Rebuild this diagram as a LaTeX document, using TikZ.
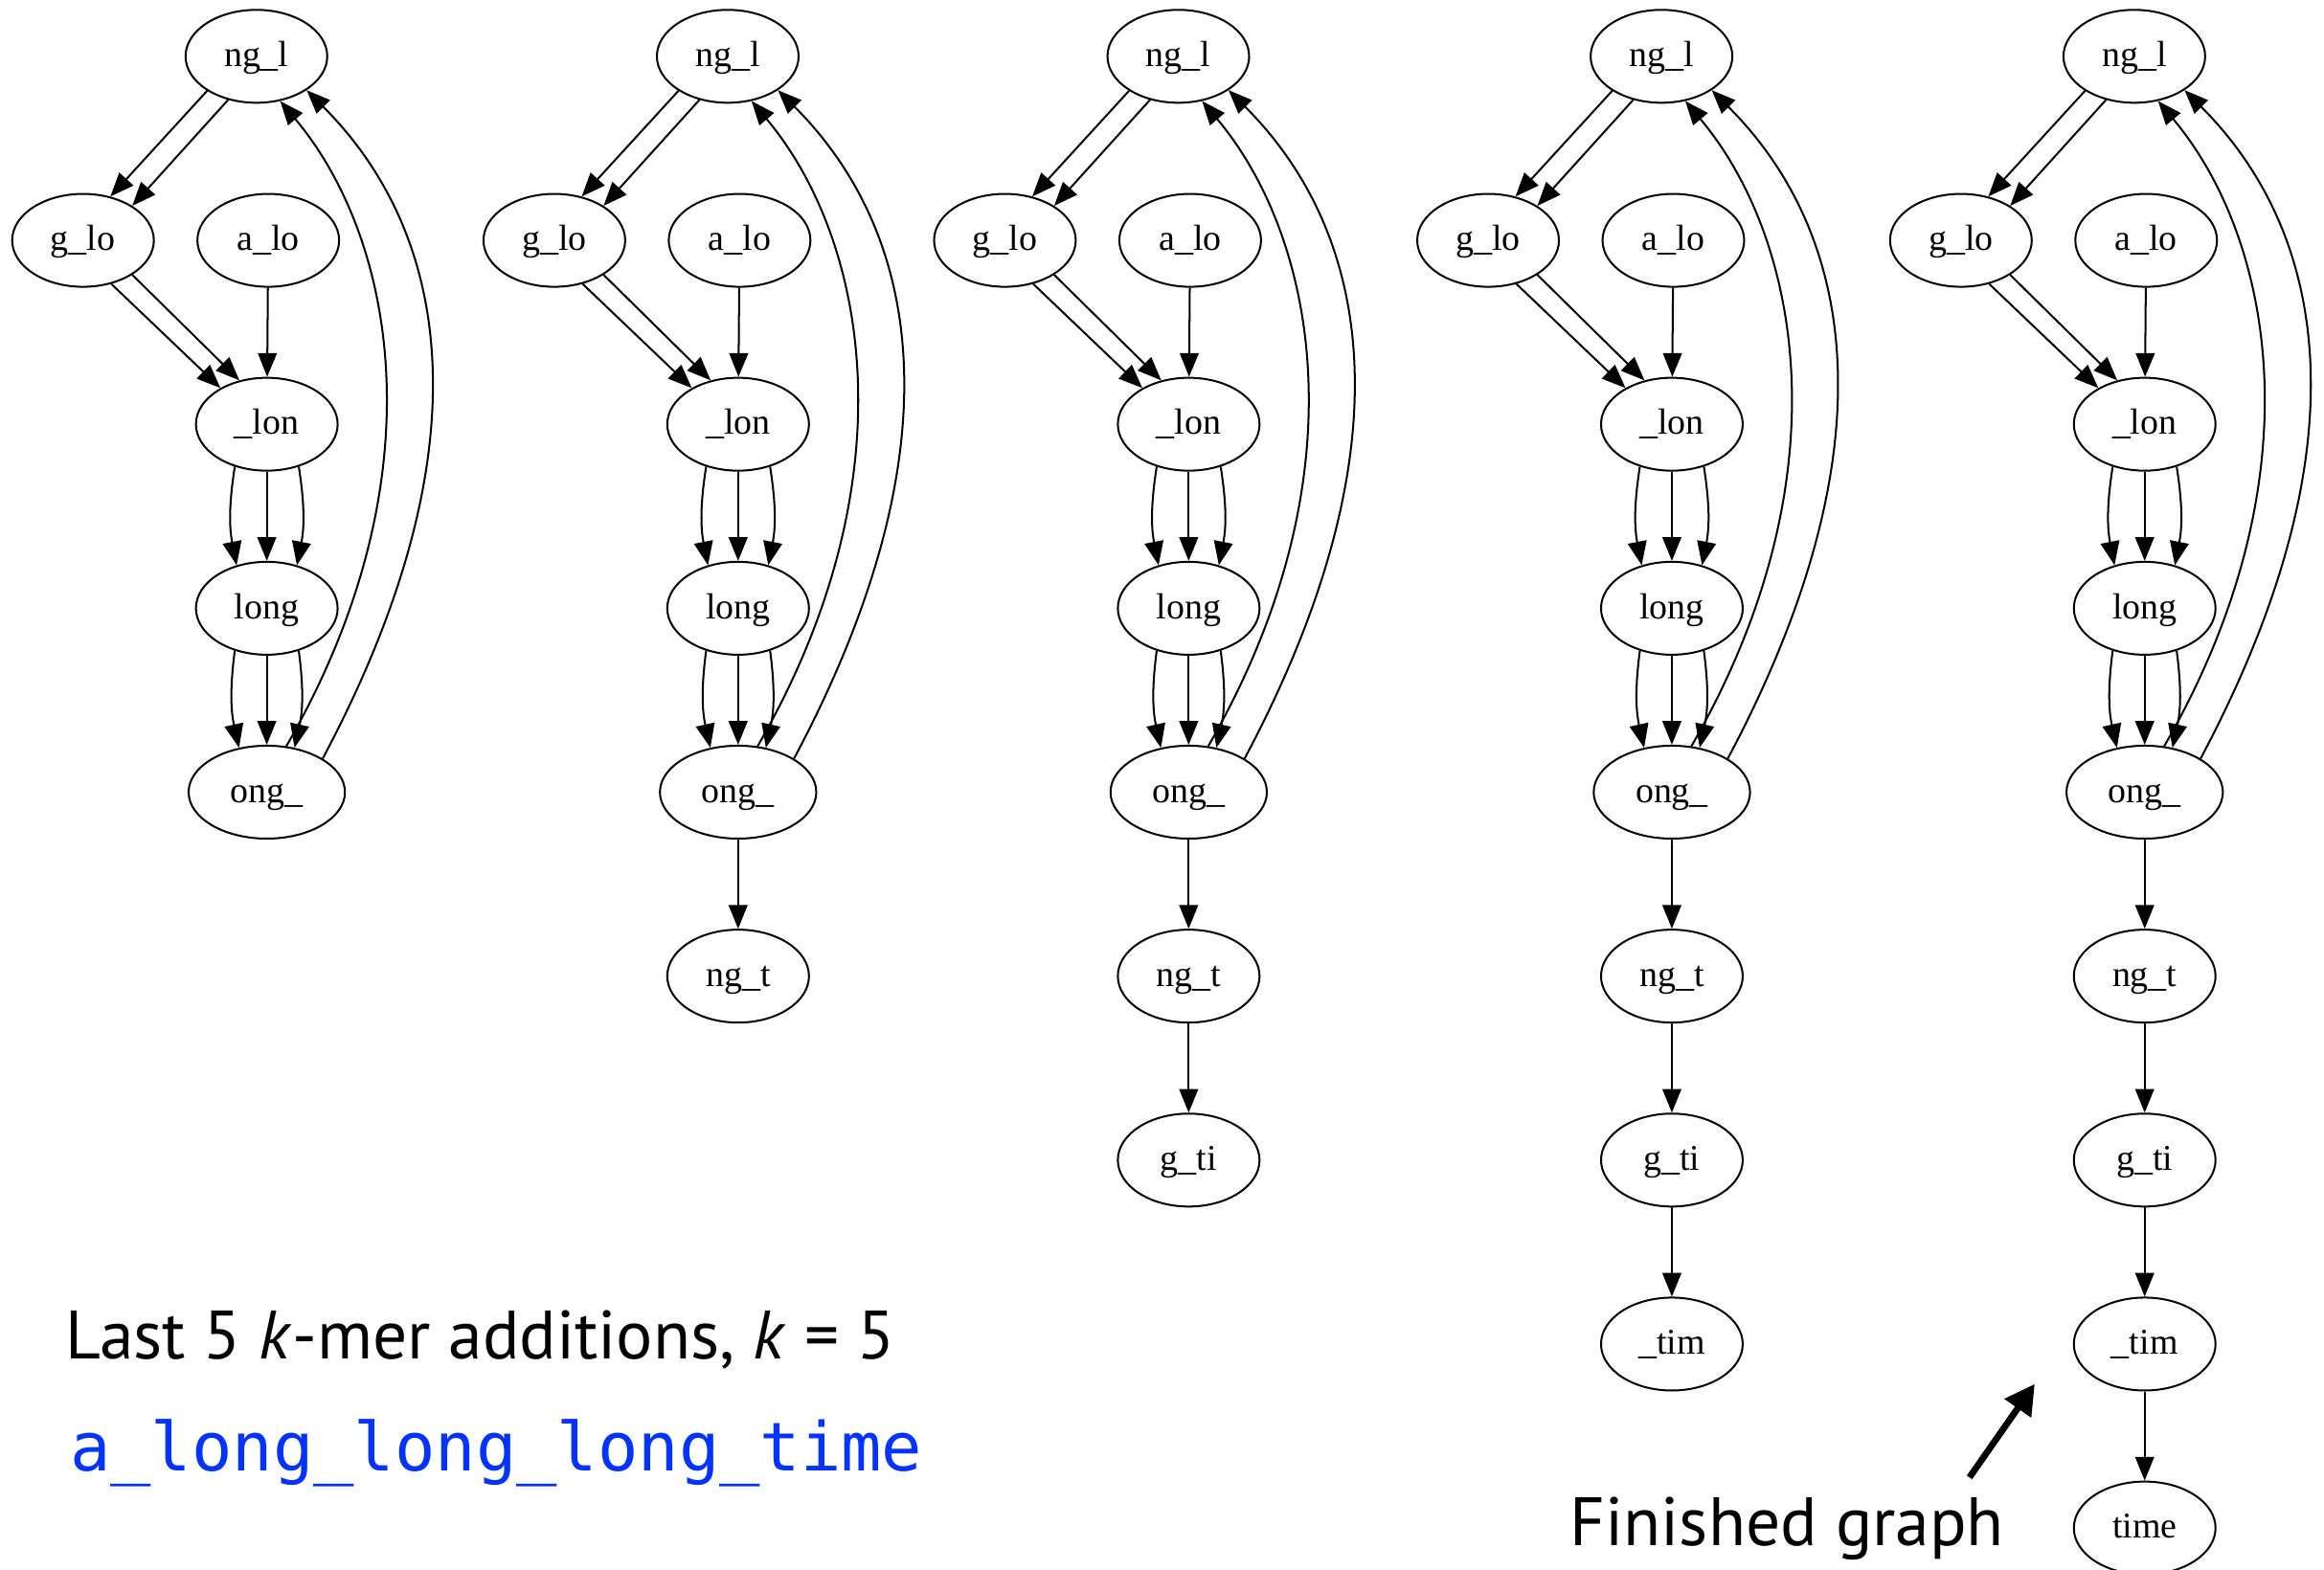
\documentclass[tikz,border=0pt]{standalone}
\usepackage{fontspec}
\setmainfont{Liberation Serif}
\setsansfont{PT Sans}
\setmonofont{DejaVu Sans Mono}
\usetikzlibrary{arrows.meta,shapes.geometric}
\definecolor{seqblue}{RGB}{4,51,255}

\begin{document}
\begin{tikzpicture}[x=1pt,y=-1pt]

	\tikzset{kmer/.style={draw,ellipse,line width=1.3pt,minimum width=95.6pt,minimum height=62.7pt,inner sep=0pt,
	    text height=17pt,text depth=3pt,font=\fontsize{24.5}{28}\selectfont}}
	\tikzset{link/.style={line width=1.3pt,-{Triangle[length=16pt,width=12.7pt]}}}
	\tikzset{label/.style={anchor=base west,inner sep=0pt}}
	\useasboundingbox (0,0) rectangle (1568,1059);

	\foreach \gx/\n [count=\g] in {180/0,498/1,802/2,1128/3,1447/4} {
	    \begin{scope}[xshift=\gx pt]
	        \node[kmer] (ngl\g) at (-7,38) {ng\_l};
	        \node[kmer] (glo\g) at (-124,162.2) {g\_lo};
	        \node[kmer] (alo\g) at (1,162.2) {a\_lo};
	        \node[kmer] (lon\g) at (0,286.3) {\_lon};
	        \node[kmer] (long\g) at (0,410.5) {long};
	        \node[kmer,minimum width=105.5pt] (c\g0) at (0,534.6) {ong\_};
	        \draw[link] (ngl\g.-145) -- (glo\g.58);
	        \draw[link] (ngl\g.-123) -- (glo\g.35);
	        \draw[link] (glo\g.-57) -- (lon\g.142);
	        \draw[link] (glo\g.-35) -- (lon\g.122);
	        \draw[link] (alo\g) -- (lon\g);
	        \draw[link] (lon\g.-127) to[bend right=10] (long\g.125);
	        \draw[link] (lon\g) -- (long\g);
	        \draw[link] (lon\g.-53) to[bend left=10] (long\g.55);
	        \draw[link] (long\g.-127) to[bend right=10] (c\g0.122);
	        \draw[link] (long\g) -- (c\g0);
	        \draw[link] (long\g.-53) to[bend left=10] (c\g0.58);
	        \draw[link] (c\g0.67) to[out=60,in=-50,out distance=210pt,in distance=120pt] (ngl\g.-62);
	        \draw[link] (c\g0.31) to[out=62,in=-45,out distance=240pt,in distance=135pt] (ngl\g.-34);
	        % tail of the graph grows by one k-mer per step
	        \foreach \lab [count=\j] in {ng\_t,g\_ti,\_tim,time} {
	            \ifnum\j>\n\else
	                \pgfmathtruncatemacro\prev{\j-1}
	                \node[kmer] (c\g\j) at (0,534.6+124.15*\j) {\lab};
	                \draw[link] (c\g\prev) -- (c\g\j);
	            \fi
	        }
	    \end{scope}
	}

	\node[label,font=\sffamily\fontsize{46.2}{54}\selectfont] (caption) at (44,917.3) {Last 5 \textit{k}-mer additions, \textit{k} = 5};
	\node[label,font=\ttfamily\fontsize{45.5}{52}\selectfont,text=seqblue] (sequence) at (47,992.5) {a\_long\_long\_long\_time};
	\node[label,font=\sffamily\fontsize{46.2}{54}\selectfont] (finished) at (1059,1043.3) {Finished graph};
	\coordinate (tail) at (1328.8,997);
	\coordinate (tip) at (1372.8,934);
	\draw[line width=4.4pt,-{Triangle[length=20pt,width=21pt]}] (tail) -- (tip);

\end{tikzpicture}
\end{document}
